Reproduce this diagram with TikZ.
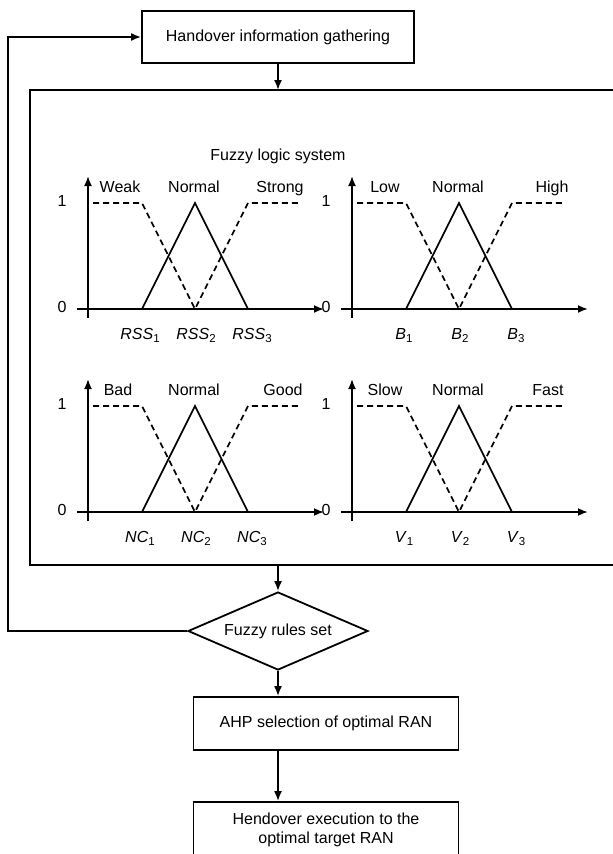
\documentclass[tikz,border=0pt]{standalone}
\usepackage{fontspec}
\setmainfont{Liberation Sans}
\usetikzlibrary{shapes.geometric,arrows.meta}
\newcommand\lblsub[2]{\textit{#1}\raisebox{-0.4ex}{\fontsize{11.5}{11.5}\selectfont #2}}
\tikzset{
  every node/.style={font=\fontsize{16}{19}\selectfont},
  line/.style={line width=1.8pt},
  arr/.style={line width=1.8pt,-{Latex[length=10pt,width=8pt]}},
  box/.style={draw,line width=1.8pt,inner sep=0pt},
  mf/.style={line width=1.7pt},
  mfd/.style={line width=1.7pt,dash pattern=on 6pt off 4pt},
  lab/.style={inner sep=0pt,anchor=center,text height=1.5ex,text depth=0.3ex}
}
\newcommand\mfplot[9]{%
 \begin{scope}[shift={(#1,#2)}]
  \draw[arr] (-11,0) -- (236,0);
  \draw[arr] (0,9) -- (0,-133);
  \node[lab] (#3n1) at (-26,-106) {1};
  \node[lab] (#3n0) at (-26,0) {0};
  \draw[mfd] (5,-106) -- (54,-106) -- (107,0) -- (160,-106) -- (210,-106);
  \draw[mf] (54,0) -- (107,-106) -- (160,0);
  \node[lab] (#3a) at (#4,-120) {#5};
  \node[lab] (#3b) at (106,-120) {Normal};
  \node[lab] (#3c) at (#6,-120) {#7};
  \node[lab] (#3x1) at (52,27) {\lblsub{#8}{1}};
  \node[lab] (#3x2) at (108,27) {\lblsub{#8}{2}};
  \node[lab] (#3x3) at (164,27) {\lblsub{#8}{3}};
 \end{scope}}
\begin{document}
\begin{tikzpicture}[x=1pt,y=-1pt]
\useasboundingbox (0,0) rectangle (613,854);
\node[box,minimum width=272pt,minimum height=52pt] (hig) at (278,37) {Handover information gathering};
\node[box,minimum width=600pt,minimum height=475pt] (fls) at (330,327.5) {};
\node[lab] (flstitle) at (278,157) {Fuzzy logic system};
\mfplot{88}{309}{p1}{32}{Weak}{192}{Strong}{RSS}{}
\mfplot{352}{309}{p2}{33}{Low}{200}{High}{B}{}
\mfplot{88}{512}{p3}{30}{Bad}{195}{Good}{NC}{}
\mfplot{352}{512}{p4}{33}{Slow}{196}{Fast}{V}{}
\node[draw,diamond,line width=1.8pt,inner sep=0pt,aspect=2.3,minimum width=180pt,minimum height=78pt] (frs) at (278,631) {Fuzzy rules set};
\node[box,minimum width=265pt,minimum height=53pt] (ahp) at (326,723.5) {AHP selection of optimal RAN};
\node[box,minimum width=265pt,minimum height=56pt,align=center] (hex) at (326,830) {Hendover execution to the\\optimal target RAN};
\coordinate (c1) at (278,90);
\coordinate (c2) at (278,565);
\coordinate (fl1) at (8,631);
\coordinate (fl2) at (8,37);
\draw[arr] (hig.south -| c1) -- (c1);
\draw[arr] (c2) -- (frs.north);
\draw[arr] (frs.south) -- (frs.south |- ahp.north);
\draw[arr] (ahp.south -| frs.south) -- (hex.north -| frs.south);
\draw[arr] (frs.west) -- (fl1) -- (fl2) -- (hig.west);
\end{tikzpicture}
\end{document}
